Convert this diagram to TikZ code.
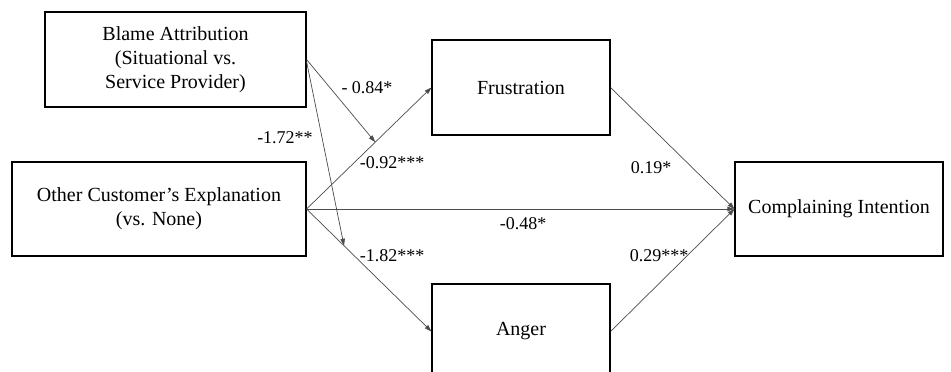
\documentclass[tikz,border=0pt]{standalone}
\usepackage{fontspec}
\setmainfont{Liberation Serif}
\usetikzlibrary{arrows.meta,calc}
\tikzset{
  box/.style={draw=black,line width=1.1pt,fill=white,align=center,inner sep=0pt,
    font=\fontsize{20}{24}\selectfont},
  conn/.style={draw=black!70,line width=0.7pt,-{Triangle[length=7pt,width=4.5pt]}},
  lab/.style={font=\fontsize{18}{20}\selectfont,inner sep=0pt}
}
\begin{document}
\begin{tikzpicture}[x=1pt,y=1pt]
\useasboundingbox (0,0) rectangle (951,372);
\clip (0,0) rectangle (951,372);
\fill[white] (0,0) rectangle (951,372);
\node[box,minimum width=261,minimum height=95] (blame) at (175.5,312.5) {Blame Attribution\\(Situational vs.\\Service Provider)};
\node[box,minimum width=294,minimum height=94] (other) at (159,163) {Other Customer’s Explanation\\(vs. None)};
\node[box,minimum width=178,minimum height=95] (frus) at (521,284.5) {Frustration};
\node[box,minimum width=178,minimum height=95] (anger) at (521,40.5) {Anger};
\node[box,minimum width=208,minimum height=94] (comp) at (839,163) {Complaining Intention};
\draw[conn] (other.east) -- (frus.west);
\draw[conn] (other.east) -- (anger.west);
\draw[conn] (other.east) -- (comp.west);
\draw[conn] (frus.east) -- (comp.west);
\draw[conn] (anger.east) -- (comp.west);
\coordinate (m1) at ($(other.east)!0.55!(frus.west)$);
\coordinate (m2) at ($(other.east)!0.3!(anger.west)$);
\draw[conn] (blame.east) -- (m1);
\draw[conn] ([yshift=-2pt]blame.east) -- (m2);
\node[lab] (l1) at (367,284) {- 0.84*};
\node[lab] (l2) at (285,234) {-1.72**};
\node[lab] (l3) at (392,209) {-0.92***};
\node[lab] (l4) at (392,116) {-1.82***};
\node[lab] (l5) at (651,204) {0.19*};
\node[lab] (l6) at (523,148) {-0.48*};
\node[lab] (l7) at (659,116) {0.29***};
\end{tikzpicture}
\end{document}
